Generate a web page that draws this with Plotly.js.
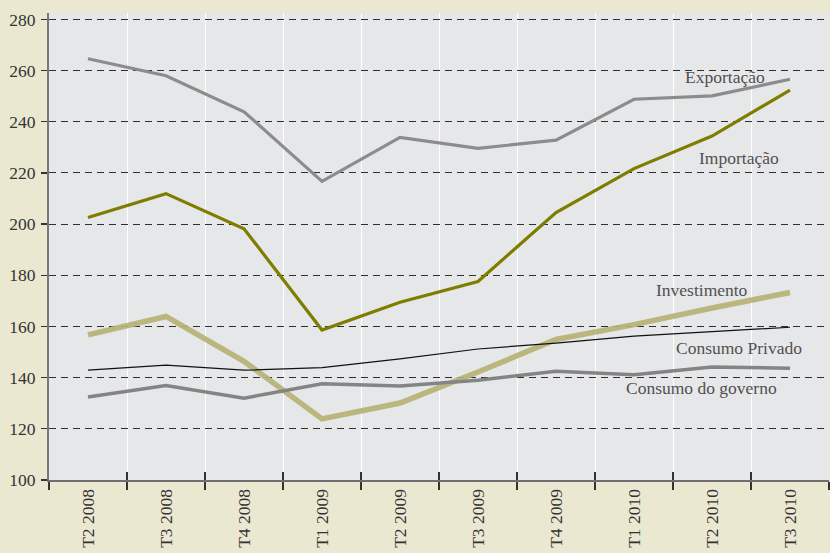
<!DOCTYPE html>
<html>
<head>
<meta charset="utf-8">
<script src="https://cdn.plot.ly/plotly-3.0.1.min.js"></script>
<style>html,body{margin:0;padding:0;background:#ebe8d1;}#chart{width:830px;height:553px;}</style>
</head>
<body>
<div id="chart"></div>
<script>
const categories = ["T2 2008","T3 2008","T4 2008","T1 2009","T2 2009","T3 2009","T4 2009","T1 2010","T2 2010","T3 2010"];
const exportacao = [264.6, 258.0, 243.9, 216.7, 233.9, 229.6, 232.8, 248.8, 250.1, 256.6];
const importacao = [202.6, 211.9, 198.2, 158.6, 169.5, 177.6, 204.5, 221.7, 234.4, 252.4];
const investimento = [156.7, 163.9, 146.4, 123.9, 130.1, 142.2, 154.9, 160.7, 167.2, 173.3];
const consumoPrivado = [142.9, 144.9, 142.9, 143.9, 147.3, 151.2, 153.5, 156.2, 158.0, 159.7];
const consumoGoverno = [132.4, 136.9, 132.0, 137.6, 136.7, 139.0, 142.5, 141.1, 144.2, 143.7];
const yTicks = [100,120,140,160,180,200,220,240,260,280];

const labelFont = {family: "Liberation Serif, Times New Roman, serif", size: 17.5, color: "#505050"};

const traces = [
  {name:"Investimento", x:categories, y:investimento, type:"scatter", mode:"lines", line:{color:"#b7b274", width:5.5}, opacity:0.92},
  {name:"Consumo do governo", x:categories, y:consumoGoverno, type:"scatter", mode:"lines", line:{color:"#848484", width:3.5}},
  {name:"Consumo Privado", x:categories, y:consumoPrivado, type:"scatter", mode:"lines", line:{color:"#111111", width:1.2}},
  {name:"Importação", x:categories, y:importacao, type:"scatter", mode:"lines", line:{color:"#7f7d00", width:3.2}},
  {name:"Exportação", x:categories, y:exportacao, type:"scatter", mode:"lines", line:{color:"#8c8c8c", width:3.2}},
  {x:[0], y:[null], xaxis:"x2", type:"scatter", mode:"lines", showlegend:false, hoverinfo:"skip"}
];

const layout = {
  width: 830, height: 553,
  margin: {l:49, r:1, t:13, b:73},
  paper_bgcolor: "#ebe8d1",
  plot_bgcolor: "#e6e7e9",
  showlegend: false,
  font: {family: "Liberation Serif, Times New Roman, serif", size: 17, color: "#333333"},
  xaxis: {
    type: "category", categoryorder: "array", categoryarray: categories,
    range: [-0.5, categories.length - 0.5],
    tickson: "boundaries", ticks: "outside", ticklen: 8, tickwidth: 1.3, tickcolor: "#333",
    showgrid: true, gridcolor: "#ffffff", gridwidth: 1,
    showline: true, linecolor: "#6f6f6f", linewidth: 2,
    tickangle: -90, tickfont: {size: 17.5, color: "#333"},
    zeroline: false, fixedrange: true
  },
  xaxis2: {
    overlaying: "x", anchor: "y", side: "bottom",
    range: [-0.5, categories.length - 0.5],
    tick0: 0.5, dtick: 1, ticks: "inside", ticklen: 8, tickwidth: 1.3, tickcolor: "#333",
    showticklabels: false, showgrid: false, zeroline: false, showline: false
  },
  yaxis: {
    range: [100, 282.5], tickvals: yTicks,
    ticks: "outside", ticklen: 6, tickwidth: 1.3, tickcolor: "#333",
    ticklabelstandoff: 2,
    showgrid: true, gridcolor: "#2e2e2e", gridwidth: 1, griddash: "7px,5px",
    showline: true, linecolor: "#777777", linewidth: 2,
    zeroline: false, tickfont: {size: 17.5, color: "#333"}, fixedrange: true
  },
  annotations: [
    {text:"Exportação", x:8.17, y:257.5, xref:"x", yref:"y", showarrow:false, font:labelFont, xanchor:"center", yanchor:"middle"},
    {text:"Importação", x:8.35, y:225.8, xref:"x", yref:"y", showarrow:false, font:labelFont, xanchor:"center", yanchor:"middle"},
    {text:"Investimento", x:7.87, y:174.4, xref:"x", yref:"y", showarrow:false, font:labelFont, xanchor:"center", yanchor:"middle"},
    {text:"Consumo Privado", x:8.35, y:151.4, xref:"x", yref:"y", showarrow:false, font:labelFont, xanchor:"center", yanchor:"middle"},
    {text:"Consumo do governo", x:7.87, y:136.1, xref:"x", yref:"y", showarrow:false, font:labelFont, xanchor:"center", yanchor:"middle"}
  ]
};

Plotly.newPlot("chart", traces, layout, {displayModeBar:false, staticPlot:true});
</script>
</body>
</html>
